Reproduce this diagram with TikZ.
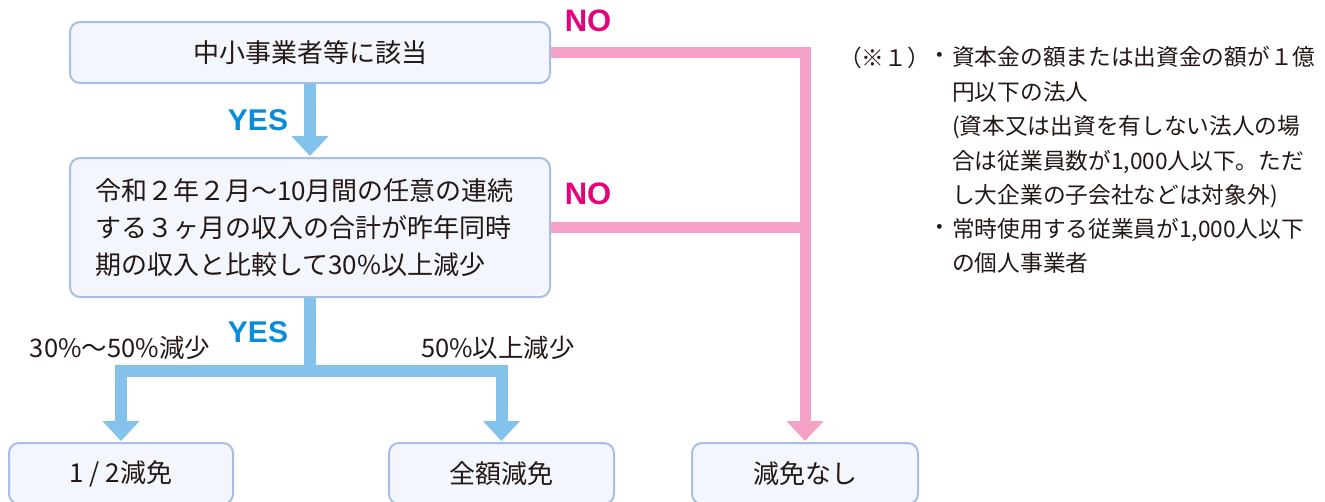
\documentclass[tikz,border=0pt]{standalone}
\usepackage{fontspec}
\setmainfont{Noto Sans CJK JP}
\newfontfamily\latinbold{Liberation Sans}
\usetikzlibrary{arrows.meta}
\definecolor{boxfill}{HTML}{F3F6FC}
\definecolor{boxdraw}{HTML}{A7BFE5}
\definecolor{bluearr}{HTML}{83C2EB}
\definecolor{pinkarr}{HTML}{F5A1C8}
\definecolor{nocol}{HTML}{E6007E}
\definecolor{yescol}{HTML}{0A8DD8}
\definecolor{txt}{HTML}{231815}
\begin{document}
\begin{tikzpicture}[x=1pt,y=-1pt,
  box/.style={draw=boxdraw, line width=2pt, fill=boxfill, rounded corners=10pt,
    text=txt, font=\fontsize{26}{37}\selectfont, inner sep=0pt},
  blueln/.style={draw=bluearr, line width=12pt},
  bluearrow/.style={blueln, -{Triangle[length=20pt,width=36pt]}, shorten >=1pt},
  pinkln/.style={draw=pinkarr, line width=11pt},
  pinkarrow/.style={pinkln, -{Triangle[length=20pt,width=36pt]}, shorten >=1pt},
  nolbl/.style={text=nocol, font=\latinbold\bfseries\fontsize{31}{32}\selectfont, inner sep=0pt},
  yeslbl/.style={text=yescol, font=\latinbold\bfseries\fontsize{30}{32}\selectfont, inner sep=0pt},
  lbl/.style={text=txt, font=\fontsize{25.5}{28}\selectfont, inner sep=0pt},
  note/.style={text=txt, font=\fontsize{22.7}{34.5}\selectfont, inner sep=0pt, align=left}
]
\useasboundingbox (0,0) rectangle (1325,501);
\clip (0,0) rectangle (1325,501);

% boxes
\node[box, minimum width=480pt, minimum height=61pt] (box1) at (310,52.5) {中小事業者等に該当};
\node[box, inner xsep=25pt, text width=430pt, align=left, minimum height=139pt] (box2) at (310,227.5)
  {令和２年２月〜10月間の任意の連続\\する３ヶ月の収入の合計が昨年同時\\期の収入と比較して30\%以上減少};
\node[box, minimum width=224pt, minimum height=61pt] (b3) at (121,473.5) {1 / 2減免};
\node[box, minimum width=225pt, minimum height=61pt] (b4) at (501.5,473.5) {全額減免};
\node[box, minimum width=226pt, minimum height=61pt] (b5) at (805,473.5) {減免なし};

% blue connectors
\draw[bluearrow] (box1.south) -- (box2.north);
\path (box2.south) ++(0,73) coordinate (split);
\draw[blueln] (box2.south) -- (split);
\draw[bluearrow] (split) -| (b3.north);
\draw[bluearrow] (split) -| (b4.north);

% pink connectors
\draw[pinkarrow] (box1.east) -| (b5.north);
\draw[pinkln] (box2.east) -- (box2.east -| b5.north);

% labels
\node[nolbl] (no1) at (588,21) {NO};
\node[nolbl] (no2) at (588,194) {NO};
\node[yeslbl] (yes1) at (258,120) {YES};
\node[yeslbl] (yes2) at (258,332) {YES};
\node[lbl] (l1) at (120,348) {30\%〜50\%減少};
\node[lbl] (l2) at (498,348) {50\%以上減少};

% notes
\node[note, anchor=west] (ref) at (839,58) {（※１）};
\node[note] (bul1) at (940,58) {・};
\node[note, anchor=base west] (item1) at (952,203.6)
  {資本金の額または出資金の額が１億\\円以下の法人\\(資本又は出資を有しない法人の場\\合は従業員数が1,000人以下。ただ\\し大企業の子会社などは対象外)};
\node[note] (bul2) at (940,230) {・};
\node[note, anchor=base west] (item2) at (952,271.6)
  {常時使用する従業員が1,000人以下\\の個人事業者};
\end{tikzpicture}
\end{document}
